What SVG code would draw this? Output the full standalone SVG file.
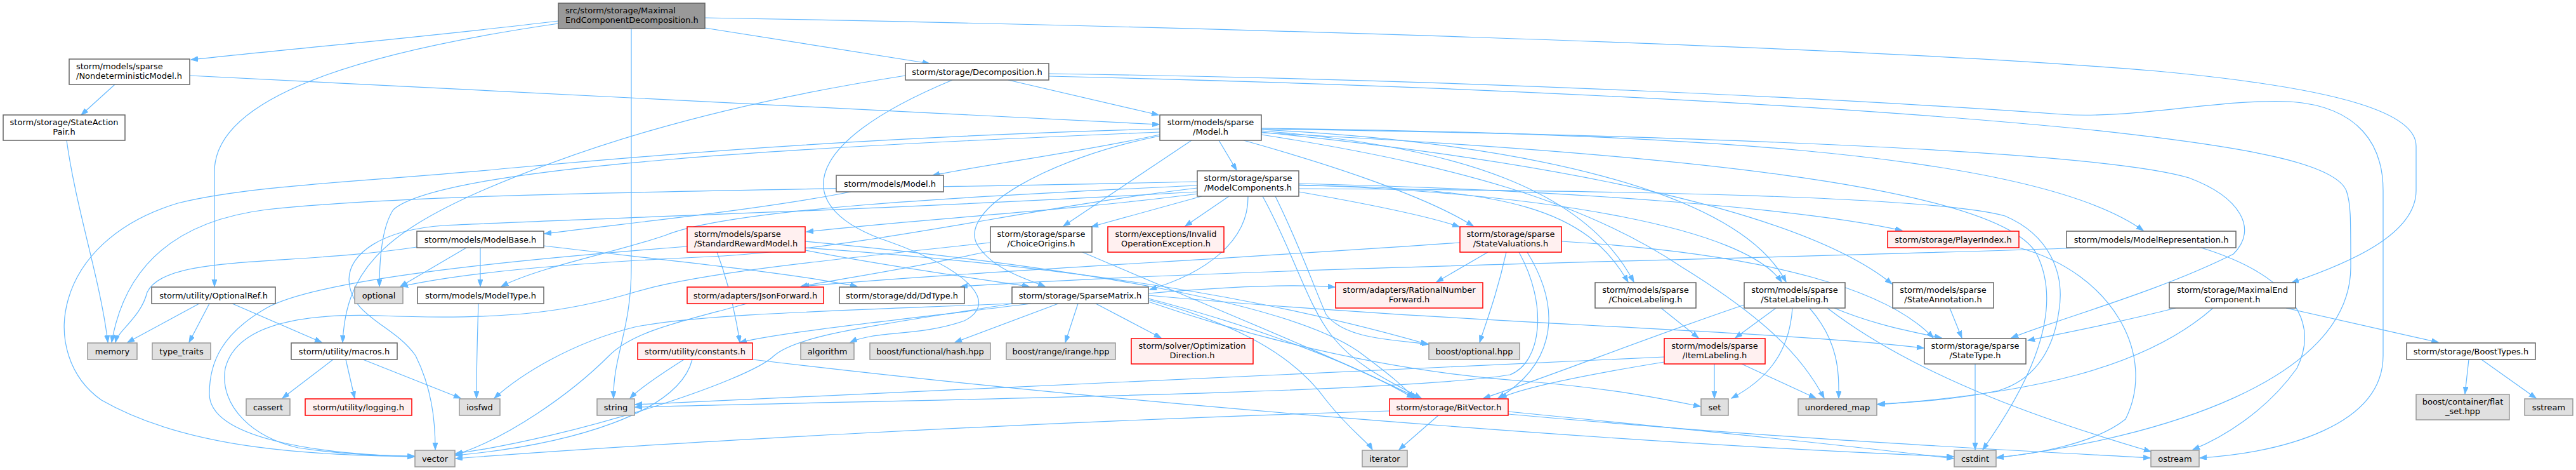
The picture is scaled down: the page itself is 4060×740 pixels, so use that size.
<svg xmlns="http://www.w3.org/2000/svg" width="4060" height="740" viewBox="0 0 4060 740">
<style>
text{font-family:"DejaVu Sans","Liberation Sans",sans-serif;font-size:13px;fill:#000}
.c{text-anchor:middle}
.w{fill:#fff;stroke:#666;stroke-width:1.5}
.g{fill:#e0e0e0;stroke:#999;stroke-width:1.5}
.r{fill:#fff0f0;stroke:#f00;stroke-width:1.5}
.rt{fill:#999;stroke:#666;stroke-width:1.5}
#edges path{fill:none;stroke:#63b8ff;stroke-width:1.2;marker-end:url(#a)}
</style>
<defs>
<marker id="a" markerUnits="userSpaceOnUse" markerWidth="12" markerHeight="9" refX="11" refY="4" orient="auto"><path d="M0,0 L11,4 L0,8 z" fill="#63b8ff" stroke="#63b8ff" stroke-width="1"/></marker>
</defs>
<rect width="4060" height="740" fill="#fff"/>
<g id="edges">
<path d="M880,33 C700,55 480,75 301,94"/>
<path d="M880,37 C620,75 338,140 338,270 L338,451"/>
<path d="M995,45 L995,420 C995,520 966,560 967,627"/>
<path d="M1111,44 L1465,100"/>
<path d="M1111,28 C1800,40 2900,70 3400,112 C3700,140 3808,180 3808,230 L3808,300 C3808,370 3700,415 3612,445"/>
<path d="M181,133 L128,181"/>
<path d="M299,119 C900,150 1500,182 1827,196"/>
<path d="M105,221 C120,330 158,440 170,539"/>
<path d="M1589,126 L1826,181"/>
<path d="M1653,120 C2300,135 2900,165 3300,205 C3550,232 3680,258 3698,300 C3705,320 3705,340 3705,420 C3705,600 3400,690 3147,721"/>
<path d="M1653,116 C2300,125 2900,155 3250,180 C3360,188 3500,155 3610,160 C3720,168 3756,230 3756,300 L3756,560 C3756,670 3600,712 3467,721"/>
<path d="M1501,126 C1250,230 1250,330 1400,380 C1540,430 1570,480 1520,505 C1450,530 1380,520 1340,539"/>
<path d="M1427,119 C1100,170 900,240 760,300 C600,370 545,430 540,539"/>
<path d="M1828,212 C1700,240 1560,258 1470,276"/>
<path d="M1921,221 L1949,268"/>
<path d="M1878,221 L1676,356"/>
<path d="M1828,214 C1650,250 1510,330 1540,385 C1565,425 1620,440 1647,451"/>
<path d="M1960,221 C2100,260 2250,310 2322,356"/>
<path d="M1988,206 C2300,230 2500,300 2575,444"/>
<path d="M1988,204 C2400,225 2740,300 2815,444"/>
<path d="M1988,208 C2500,260 2850,340 2982,447"/>
<path d="M1988,203 C2600,212 3300,235 3450,280 C3530,310 3560,360 3520,400 C3400,460 3250,500 3170,532"/>
<path d="M1988,202 C2600,210 3200,235 3378,363"/>
<path d="M1988,209 C2600,240 3150,290 3210,400 C3260,500 3180,630 3125,708"/>
<path d="M1828,203 C1400,215 1100,238 800,265 C600,285 400,290 280,320 C80,380 60,560 160,630 C300,710 500,716 653,719"/>
<path d="M1828,208 C1300,230 700,260 620,330 C600,360 598,420 598,451"/>
<path d="M1988,212 C2300,260 2500,320 2650,420 C2780,500 2840,560 2875,627"/>
<path d="M1888,305 C1700,330 1450,345 1271,365"/>
<path d="M1894,309 L1720,357"/>
<path d="M1937,309 L1868,356"/>
<path d="M1967,309 C1968,380 1900,430 1812,456"/>
<path d="M2047,302 C2150,320 2250,340 2300,357"/>
<path d="M2047,292 C2380,295 2500,330 2566,444"/>
<path d="M2047,291 C2450,305 2750,360 2808,444"/>
<path d="M2047,289 C2500,300 2850,330 2998,363"/>
<path d="M1990,309 C2040,400 2060,480 2100,530 C2140,580 2200,605 2240,627"/>
<path d="M1887,292 C1500,310 1150,330 1050,370 C980,395 850,420 790,451"/>
<path d="M1887,286 C1300,300 700,300 420,330 C300,345 200,400 176,539"/>
<path d="M1887,296 C1600,330 1350,395 1100,405 C950,412 750,425 632,451"/>
<path d="M2047,297 C2600,300 3050,310 3160,340 C3230,370 3255,430 3245,490 C3235,560 3200,600 3150,615 C3080,630 3010,634 2960,636"/>
<path d="M2010,309 C2050,390 2070,450 2090,495 C2120,535 2200,535 2252,542"/>
<path d="M1887,302 C1400,330 900,345 700,355 C600,362 550,400 550,440 C552,500 620,510 655,560 C680,610 686,660 686,708"/>
<path d="M735,390 L631,451"/>
<path d="M757,390 L757,451"/>
<path d="M657,389 C450,420 260,400 232,460 C222,500 186,520 182,539"/>
<path d="M857,387 C1050,410 1250,430 1351,451"/>
<path d="M1341,302 C1200,330 1000,350 858,368"/>
<path d="M314,478 L201,539"/>
<path d="M330,478 L298,539"/>
<path d="M366,478 L507,539"/>
<path d="M525,566 L445,627"/>
<path d="M545,566 L559,627"/>
<path d="M572,566 L726,627"/>
<path d="M754,478 C752,540 751,590 751,627"/>
<path d="M1078,566 C1040,590 1010,610 993,627"/>
<path d="M1091,566 C1070,650 900,700 718,717"/>
<path d="M1186,566 C1800,640 2600,700 3079,719"/>
<path d="M1269,394 C1400,420 1550,440 1622,451"/>
<path d="M1269,380 C1700,420 2050,480 2150,560 C2190,590 2215,610 2228,627"/>
<path d="M1083,388 C800,410 500,440 420,485 C350,525 330,570 330,620 C330,690 500,715 653,719"/>
<path d="M1130,397 C1150,450 1160,500 1166,539"/>
<path d="M1269,390 C1700,420 2000,470 2250,542"/>
<path d="M1561,395 C1450,420 1320,440 1262,451"/>
<path d="M1706,397 C1900,480 2100,560 2235,627"/>
<path d="M1561,382 C1300,410 1100,430 1000,460 C900,490 800,505 600,497 C450,492 370,520 355,580 C345,640 400,690 470,705 C540,716 600,718 653,718"/>
<path d="M1177,478 C1080,505 1000,520 960,560 C900,620 800,690 718,716"/>
<path d="M1625,478 C1450,500 1250,520 1166,539"/>
<path d="M1668,478 L1505,539"/>
<path d="M1699,478 L1679,539"/>
<path d="M1727,478 L1830,532"/>
<path d="M1810,470 C2000,520 2150,580 2228,627"/>
<path d="M1810,465 C2300,510 2800,520 3032,548"/>
<path d="M1595,478 C1300,490 1100,495 1000,515 C900,540 820,590 779,627"/>
<path d="M1595,478 C1400,510 1260,525 1220,560 C1180,600 900,690 718,714"/>
<path d="M1810,472 C1950,510 2040,560 2090,630 C2130,680 2155,695 2163,708"/>
<path d="M1810,475 C2000,540 2200,585 2400,600 C2550,612 2630,630 2680,640"/>
<path d="M1810,462 C1950,450 2050,448 2104,452"/>
<path d="M2345,397 L2264,444"/>
<path d="M2301,382 C1900,410 1500,430 1264,451"/>
<path d="M2374,397 C2360,460 2345,500 2332,539"/>
<path d="M2407,397 C2470,500 2440,580 2361,627"/>
<path d="M2394,397 C2440,480 2430,570 2380,590 C2200,620 1400,630 1001,641"/>
<path d="M2461,380 C2800,400 2980,460 3047,532"/>
<path d="M3182,390 C3330,430 3400,560 3350,660 C3300,700 3200,716 3147,720"/>
<path d="M2618,485 L2677,532"/>
<path d="M2799,485 L2735,532"/>
<path d="M2749,480 C2600,530 2450,590 2338,627"/>
<path d="M2825,485 C2820,560 2780,600 2729,627"/>
<path d="M2852,485 C2900,540 2898,590 2898,627"/>
<path d="M2891,485 C2950,510 3010,522 3060,532"/>
<path d="M2880,485 C3030,600 3250,670 3390,711"/>
<path d="M3073,485 L3092,532"/>
<path d="M2702,573 L2702,627"/>
<path d="M2745,573 L2862,627"/>
<path d="M2623,562 C2000,590 1400,620 1001,637"/>
<path d="M2623,570 C2500,590 2400,610 2364,627"/>
<path d="M2267,654 L2205,708"/>
<path d="M2377,648 C2700,680 2900,700 3079,722"/>
<path d="M2377,652 C2800,690 3100,705 3389,721"/>
<path d="M2190,647 C1600,665 1000,700 718,722"/>
<path d="M3113,573 L3113,708"/>
<path d="M3287,390 C2700,410 2000,420 1514,451"/>
<path d="M3469,390 C3600,430 3660,500 3620,580 C3570,650 3500,690 3456,708"/>
<path d="M3429,485 C3330,510 3250,525 3196,536"/>
<path d="M3488,485 C3380,580 3200,620 2959,637"/>
<path d="M3603,485 L3843,539"/>
<path d="M3891,566 L3885,620"/>
<path d="M3911,566 L3997,627"/>
</g>
<g id="n_root"><rect class="rt" x="880" y="5" width="231" height="40"/><text x="891" y="21">src/storm/storage/Maximal</text><text x="891" y="36">EndComponentDecomposition.h</text></g>
<g id="n_ndm"><rect class="w" x="109" y="93" width="190" height="40"/><text x="120" y="109">storm/models/sparse</text><text x="120" y="124">/NondeterministicModel.h</text></g>
<g id="n_sap"><rect class="w" x="5" y="181" width="192" height="40"/><text class="c" x="101" y="197">storm/storage/StateAction</text><text class="c" x="101" y="212">Pair.h</text></g>
<g id="n_decomp"><rect class="w" x="1427" y="100" width="226" height="26"/><text class="c" x="1540" y="117.5">storm/storage/Decomposition.h</text></g>
<g id="n_smodel"><rect class="w" x="1828" y="181" width="160" height="40"/><text class="c" x="1908" y="197">storm/models/sparse</text><text class="c" x="1908" y="212">/Model.h</text></g>
<g id="n_mmodel"><rect class="w" x="1318" y="276" width="169" height="26"/><text class="c" x="1402.5" y="293.5">storm/models/Model.h</text></g>
<g id="n_mcomp"><rect class="w" x="1887" y="269" width="160" height="40"/><text class="c" x="1967" y="285">storm/storage/sparse</text><text class="c" x="1967" y="300">/ModelComponents.h</text></g>
<g id="n_modelbase"><rect class="w" x="657" y="364" width="200" height="26"/><text class="c" x="757" y="381.5">storm/models/ModelBase.h</text></g>
<g id="n_optionalref"><rect class="w" x="239" y="452" width="195" height="26"/><text class="c" x="336.5" y="469.5">storm/utility/OptionalRef.h</text></g>
<g id="n_optional"><rect class="g" x="559" y="452" width="76" height="26"/><text class="c" x="597" y="469.5">optional</text></g>
<g id="n_modeltype"><rect class="w" x="658" y="452" width="199" height="26"/><text class="c" x="757.5" y="469.5">storm/models/ModelType.h</text></g>
<g id="n_memory"><rect class="g" x="138" y="540" width="78" height="26"/><text class="c" x="177" y="557.5">memory</text></g>
<g id="n_typetraits"><rect class="g" x="240" y="540" width="92" height="26"/><text class="c" x="286" y="557.5">type_traits</text></g>
<g id="n_macros"><rect class="w" x="459" y="540" width="167" height="26"/><text class="c" x="542.5" y="557.5">storm/utility/macros.h</text></g>
<g id="n_cassert"><rect class="g" x="388" y="628" width="69" height="26"/><text class="c" x="422.5" y="645.5">cassert</text></g>
<g id="n_logging"><rect class="r" x="481" y="628" width="168" height="26"/><text class="c" x="565" y="645.5">storm/utility/logging.h</text></g>
<g id="n_iosfwd"><rect class="g" x="724" y="628" width="64" height="26"/><text class="c" x="756" y="645.5">iosfwd</text></g>
<g id="n_string"><rect class="g" x="941" y="628" width="59" height="26"/><text class="c" x="970.5" y="645.5">string</text></g>
<g id="n_vector"><rect class="g" x="654" y="709" width="63" height="26"/><text class="c" x="685.5" y="726.5">vector</text></g>
<g id="n_constants"><rect class="r" x="1005" y="540" width="181" height="26"/><text class="c" x="1095.5" y="557.5">storm/utility/constants.h</text></g>
<g id="n_srm"><rect class="r" x="1083" y="357" width="186" height="40"/><text x="1094" y="373">storm/models/sparse</text><text x="1094" y="388">/StandardRewardModel.h</text></g>
<g id="n_choiceorigins"><rect class="w" x="1561" y="357" width="160" height="40"/><text class="c" x="1641" y="373">storm/storage/sparse</text><text class="c" x="1641" y="388">/ChoiceOrigins.h</text></g>
<g id="n_invalidop"><rect class="r" x="1746" y="357" width="183" height="40"/><text class="c" x="1837.5" y="373">storm/exceptions/Invalid</text><text class="c" x="1837.5" y="388">OperationException.h</text></g>
<g id="n_jsonforward"><rect class="r" x="1083" y="452" width="215" height="26"/><text class="c" x="1190.5" y="469.5">storm/adapters/JsonForward.h</text></g>
<g id="n_ddtype"><rect class="w" x="1323" y="452" width="197" height="26"/><text class="c" x="1421.5" y="469.5">storm/storage/dd/DdType.h</text></g>
<g id="n_sparsematrix"><rect class="w" x="1595" y="452" width="215" height="26"/><text class="c" x="1702.5" y="469.5">storm/storage/SparseMatrix.h</text></g>
<g id="n_algorithm"><rect class="g" x="1262" y="540" width="84" height="26"/><text class="c" x="1304" y="557.5">algorithm</text></g>
<g id="n_hash"><rect class="g" x="1371" y="540" width="190" height="26"/><text class="c" x="1466" y="557.5">boost/functional/hash.hpp</text></g>
<g id="n_irange"><rect class="g" x="1586" y="540" width="172" height="26"/><text class="c" x="1672" y="557.5">boost/range/irange.hpp</text></g>
<g id="n_optdir"><rect class="r" x="1783" y="533" width="192" height="40"/><text class="c" x="1879" y="549">storm/solver/Optimization</text><text class="c" x="1879" y="564">Direction.h</text></g>
<g id="n_statevaluations"><rect class="r" x="2301" y="357" width="160" height="40"/><text class="c" x="2381" y="373">storm/storage/sparse</text><text class="c" x="2381" y="388">/StateValuations.h</text></g>
<g id="n_playerindex"><rect class="r" x="2975" y="364" width="207" height="26"/><text class="c" x="3078.5" y="381.5">storm/storage/PlayerIndex.h</text></g>
<g id="n_rnf"><rect class="r" x="2105" y="445" width="232" height="40"/><text class="c" x="2221" y="461">storm/adapters/RationalNumber</text><text class="c" x="2221" y="476">Forward.h</text></g>
<g id="n_choicelabeling"><rect class="w" x="2514" y="445" width="159" height="40"/><text class="c" x="2593.5" y="461">storm/models/sparse</text><text class="c" x="2593.5" y="476">/ChoiceLabeling.h</text></g>
<g id="n_statelabeling"><rect class="w" x="2749" y="445" width="159" height="40"/><text class="c" x="2828.5" y="461">storm/models/sparse</text><text class="c" x="2828.5" y="476">/StateLabeling.h</text></g>
<g id="n_stateannotation"><rect class="w" x="2983" y="445" width="159" height="40"/><text class="c" x="3062.5" y="461">storm/models/sparse</text><text class="c" x="3062.5" y="476">/StateAnnotation.h</text></g>
<g id="n_modelrep"><rect class="w" x="3257" y="364" width="267" height="26"/><text class="c" x="3390.5" y="381.5">storm/models/ModelRepresentation.h</text></g>
<g id="n_mec"><rect class="w" x="3419" y="445" width="199" height="40"/><text class="c" x="3518.5" y="461">storm/storage/MaximalEnd</text><text class="c" x="3518.5" y="476">Component.h</text></g>
<g id="n_boostoptional"><rect class="g" x="2252" y="540" width="143" height="26"/><text class="c" x="2323.5" y="557.5">boost/optional.hpp</text></g>
<g id="n_itemlabeling"><rect class="r" x="2623" y="533" width="159" height="40"/><text class="c" x="2702.5" y="549">storm/models/sparse</text><text class="c" x="2702.5" y="564">/ItemLabeling.h</text></g>
<g id="n_bitvector"><rect class="r" x="2190" y="628" width="187" height="26"/><text class="c" x="2283.5" y="645.5">storm/storage/BitVector.h</text></g>
<g id="n_set"><rect class="g" x="2681" y="628" width="43" height="26"/><text class="c" x="2702.5" y="645.5">set</text></g>
<g id="n_unorderedmap"><rect class="g" x="2834" y="628" width="124" height="26"/><text class="c" x="2896" y="645.5">unordered_map</text></g>
<g id="n_iterator"><rect class="g" x="2147" y="709" width="71" height="26"/><text class="c" x="2182.5" y="726.5">iterator</text></g>
<g id="n_statetype"><rect class="w" x="3033" y="533" width="160" height="40"/><text class="c" x="3113" y="549">storm/storage/sparse</text><text class="c" x="3113" y="564">/StateType.h</text></g>
<g id="n_boosttypes"><rect class="w" x="3793" y="540" width="203" height="26"/><text class="c" x="3894.5" y="557.5">storm/storage/BoostTypes.h</text></g>
<g id="n_flatset"><rect class="g" x="3808" y="621" width="147" height="40"/><text class="c" x="3881.5" y="637">boost/container/flat</text><text class="c" x="3881.5" y="652">_set.hpp</text></g>
<g id="n_sstream"><rect class="g" x="3979" y="628" width="76" height="26"/><text class="c" x="4017" y="645.5">sstream</text></g>
<g id="n_cstdint"><rect class="g" x="3080" y="709" width="66" height="26"/><text class="c" x="3113" y="726.5">cstdint</text></g>
<g id="n_ostream"><rect class="g" x="3390" y="709" width="76" height="26"/><text class="c" x="3428" y="726.5">ostream</text></g>
</svg>
